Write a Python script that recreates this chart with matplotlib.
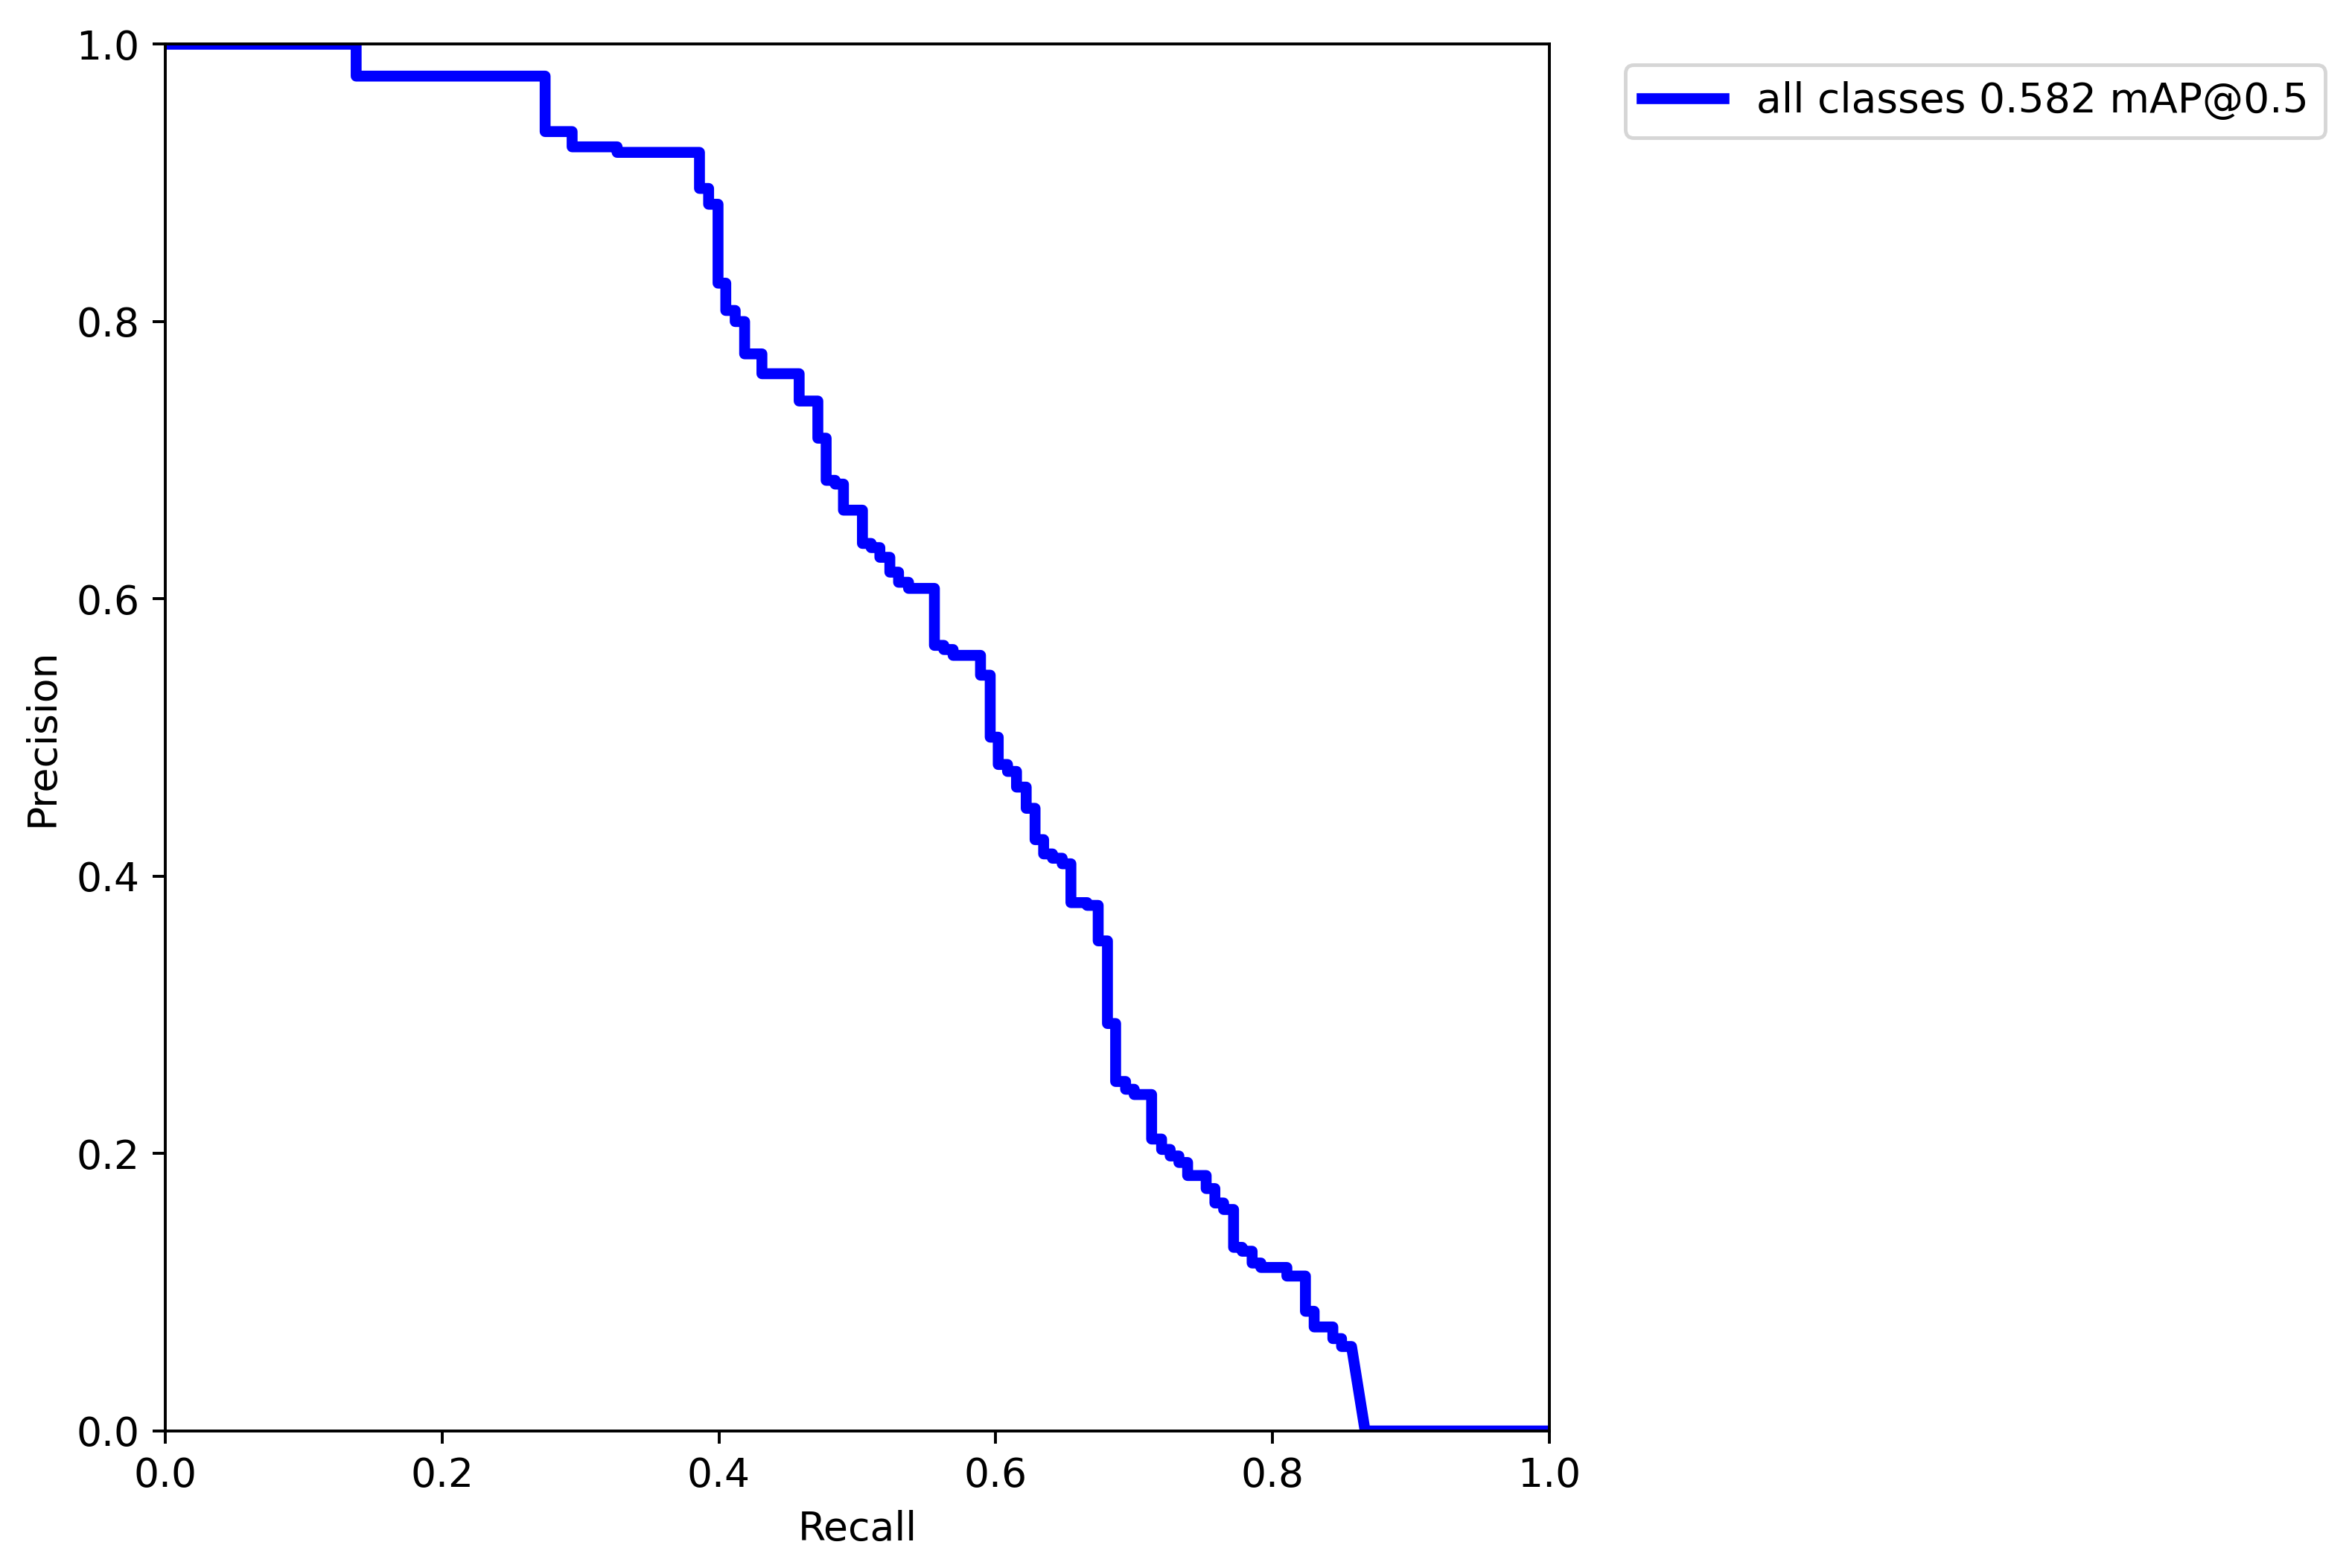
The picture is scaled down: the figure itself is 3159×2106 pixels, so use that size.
import numpy as np
import matplotlib
matplotlib.use('Agg')
import matplotlib.pyplot as plt

# step levels: recall where each level starts, precision of that level
recall_starts = [0.0, 0.138, 0.2745, 0.294, 0.3265, 0.386, 0.3926, 0.3994, 0.405, 0.4118,
                 0.4186, 0.4311, 0.458, 0.4715, 0.4775, 0.484, 0.490, 0.5037, 0.510, 0.5163,
                 0.5235, 0.5298, 0.537, 0.5557, 0.5625, 0.5692, 0.589, 0.596, 0.6018, 0.6085,
                 0.615, 0.622, 0.6284, 0.6346, 0.641, 0.648, 0.6543, 0.666, 0.674, 0.6807,
                 0.6866, 0.6938, 0.700, 0.7126, 0.7198, 0.726, 0.7323, 0.7386, 0.752, 0.7583,
                 0.7646, 0.7718, 0.778, 0.7852, 0.7915, 0.8103, 0.8237, 0.830, 0.8435, 0.8498]
precision_levels = [1.0, 0.977, 0.937, 0.926, 0.922, 0.896, 0.8846, 0.8277, 0.808, 0.800,
                    0.7767, 0.7624, 0.7427, 0.7159, 0.6855, 0.6828, 0.664, 0.640, 0.637, 0.630,
                    0.6193, 0.612, 0.6076, 0.5665, 0.5635, 0.5593, 0.545, 0.5003, 0.4806, 0.4756,
                    0.4643, 0.449, 0.4264, 0.4161, 0.413, 0.409, 0.381, 0.379, 0.3534, 0.2938,
                    0.252, 0.2464, 0.2426, 0.2105, 0.203, 0.1983, 0.1936, 0.1842, 0.1748, 0.1644,
                    0.1597, 0.1324, 0.1296, 0.1211, 0.1179, 0.1117, 0.0863, 0.075, 0.0666, 0.0609]
# tail: last level ends, curve slopes down to zero, then stays at zero
tail_recall = [0.857, 0.8668, 1.0]
tail_precision = [0.0609, 0.0, 0.0]

map50 = 0.582

xs, ys = [], []
ends = recall_starts[1:] + [tail_recall[0]]
for r0, r1, p in zip(recall_starts, ends, precision_levels):
    xs += [r0, r1]
    ys += [p, p]
xs += tail_recall[1:]
ys += tail_precision[1:]

plt.rcParams['font.size'] = 11

fig, ax = plt.subplots(1, 1, figsize=(9, 6), dpi=351)
fig.subplots_adjust(left=0.0702, right=0.6588, bottom=0.0874, top=0.9718)

ax.plot(xs, ys, linewidth=3, color='blue', label='all classes %.3f mAP@0.5' % map50)
ax.set_xlabel('Recall')
ax.set_ylabel('Precision')
ax.set_xlim(0, 1)
ax.set_ylim(0, 1)
ax.legend(bbox_to_anchor=(1.04, 1), loc='upper left', fontsize=11.3)

fig.savefig('out.png', dpi=351)
